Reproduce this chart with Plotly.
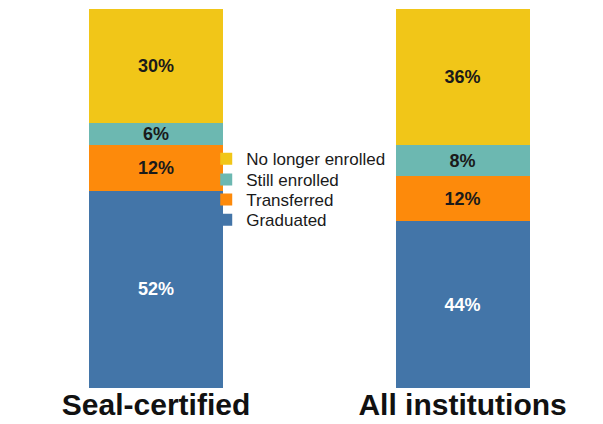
import plotly.graph_objects as go

categories = ["Seal-certified", "All institutions"]
series_names = ["Graduated", "Transferred", "Still enrolled", "No longer enrolled"]
graduated = [52, 44]
transferred = [12, 12]
still_enrolled = [6, 8]
no_longer = [30, 36]
values = [graduated, transferred, still_enrolled, no_longer]
colors = ["#4375A8", "#FD8A0B", "#6CB8B1", "#F1C618"]
text_colors = ["#FFFFFF", "#1A1A1A", "#1A1A1A", "#1A1A1A"]
legend_ids = ["legend4", "legend3", "legend2", "legend"]
legend_y = [0.443, 0.496, 0.549, 0.604]

FONT = "Liberation Sans, Arial, Helvetica, sans-serif"

fig = go.Figure()
for name, vals, col, tcol, lid in zip(series_names, values, colors, text_colors, legend_ids):
    fig.add_trace(go.Bar(
        x=categories, y=vals, name=name,
        marker=dict(color=col, line=dict(width=0)),
        width=0.437,
        text=[f"{v}%" for v in vals],
        textposition="inside",
        insidetextanchor="middle",
        constraintext="none",
        textfont=dict(family=FONT, size=18, color=tcol, weight="bold"),
        hoverinfo="skip",
        legend=lid,
    ))

legend_common = dict(
    xanchor="left", yanchor="middle",
    font=dict(family=FONT, size=17, color="#1A1A1A"),
    bgcolor="rgba(0,0,0,0)",
    itemwidth=30,
)

layout_legends = {}
for lid, ly in zip(legend_ids, legend_y):
    layout_legends[lid] = dict(x=0.342, y=ly, **legend_common)

fig.update_layout(
    barmode="stack",
    width=603, height=424,
    margin=dict(l=0, r=0, t=9, b=36),
    paper_bgcolor="white", plot_bgcolor="white",
    showlegend=True,
    xaxis=dict(
        type="category",
        range=[-0.509, 1.458],
        showgrid=False, zeroline=False, showline=False,
        ticks="",
        ticklabelstandoff=-4,
        tickfont=dict(family=FONT, size=30, color="#111111", weight="bold"),
    ),
    yaxis=dict(range=[0, 100], visible=False, showgrid=False),
    **layout_legends,
)

fig.write_html(
    "out.html",
    config={"displayModeBar": False},
    post_script="document.body.style.margin='0';document.body.style.overflow='hidden';",
)
